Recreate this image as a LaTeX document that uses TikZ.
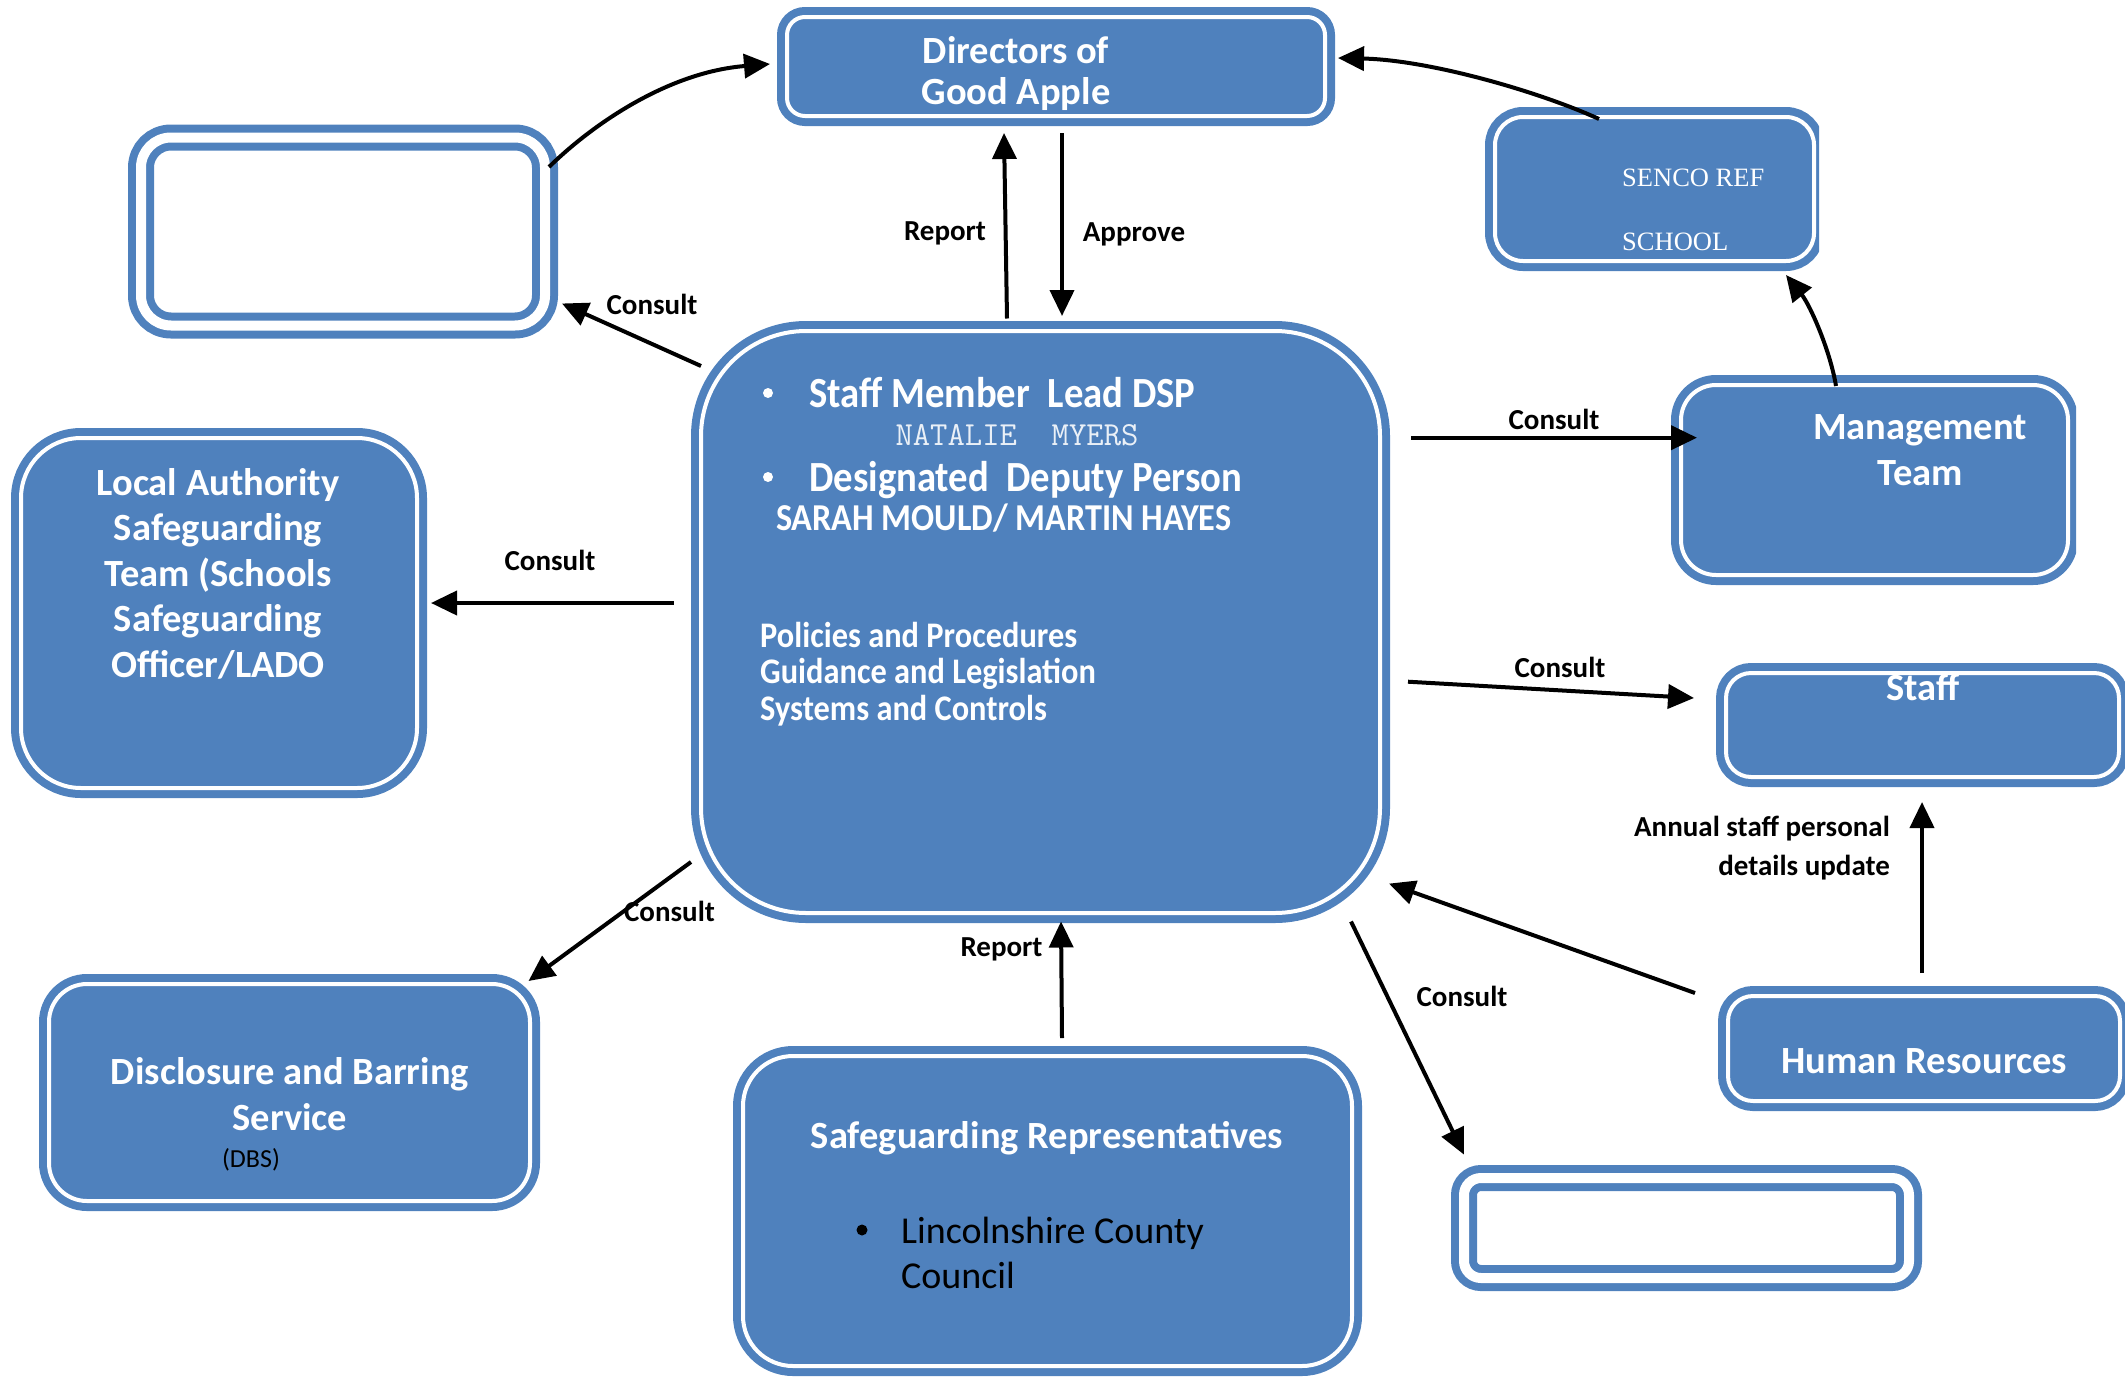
\documentclass[tikz,border=0pt]{standalone}
\usepackage{fontspec}
\setmainfont{Carlito}
\newfontfamily\condfont{Carlito}[FakeStretch=0.9]
\newfontfamily\serffont{Liberation Serif}
\usetikzlibrary{arrows.meta,calc}
\definecolor{ob}{HTML}{4F81BD}
\begin{document}
\begin{tikzpicture}[x=1pt,y=-1pt,
  bluebox/.style={rectangle, rounded corners=#1, fill=ob, draw=white, line width=4pt,
    preaction={draw=ob, line width=20pt}, inner sep=0pt, outer sep=0pt},
  bluebox/.default=20pt,
  emptybox/.style={rectangle, rounded corners=#1, draw=ob, line width=8pt, double=white,
    double distance=10pt, inner sep=0pt, outer sep=0pt},
  emptybox/.default=30pt,
  wtxt/.style={text=white, font=\bfseries\fontsize{38.5}{45.5}\selectfont, align=center,
    inner sep=0pt, anchor=base},
  ctxt/.style={text=white, inner sep=0pt, anchor=base west},
  lbl/.style={font=\bfseries\fontsize{29}{39}\selectfont, inner sep=0pt},
  conn/.style={line width=4pt, -{Triangle[length=26pt,width=24pt]}},
  dot/.style={circle, fill=#1, inner sep=0pt, minimum size=10pt},
]
\useasboundingbox (0,0) rectangle (2125,1376);

% boxes
\node[bluebox=18pt, minimum width=538pt, minimum height=99pt] (dir) at (1056,66.5) {};
\node[emptybox=30pt, minimum width=404pt, minimum height=188pt] (tl) at (343,231.5) {};
\begin{scope}
  \clip (0,0) rectangle (1819,1376);
  \node[bluebox=28pt, minimum width=319pt, minimum height=144pt] (senco) at (1654.5,189) {};
\end{scope}
\node[bluebox=105pt, minimum width=679pt, minimum height=582pt] (dsp) at (1040.5,622) {};
\begin{scope}
  \clip (0,0) rectangle (2076,1376);
  \node[bluebox=35pt, minimum width=387pt, minimum height=190pt] (mgmt) at (1874.5,480) {};
\end{scope}
\node[bluebox=60pt, minimum width=396pt, minimum height=350pt] (la) at (219,613) {};
\node[bluebox=25pt, minimum width=393pt, minimum height=104pt] (staff) at (1922.5,725) {};
\node[bluebox=25pt, minimum width=392pt, minimum height=105pt] (hr) at (1924,1048.5) {};
\node[bluebox=38pt, minimum width=481pt, minimum height=217pt] (dbs) at (289.5,1092.5) {};
\node[bluebox=50pt, minimum width=609pt, minimum height=310pt] (sg) at (1047.5,1211) {};
\node[emptybox=17pt, minimum width=445pt, minimum height=100pt] (br) at (1686.5,1228) {};

% box texts (multi-line nodes: base = last line's baseline)
\node[wtxt, font=\bfseries\fontsize{38.5}{41}\selectfont] (tdir) at (1016,104) {Directors of\\Good Apple};
\node[text=white, font=\serffont\fontsize{26.5}{64}\selectfont, align=left, anchor=base west,
  inner sep=0pt] (tsenco) at (1622,250) {SENCO REF\\SCHOOL};
\node[wtxt] (tmgmt) at (1920,485) {Management\\Team};
\node[wtxt] (tla) at (218,677) {Local Authority\\Safeguarding\\Team (Schools\\Safeguarding\\Officer/LADO};
\node[wtxt] (tstaff) at (1923,700) {Staff};
\node[wtxt] (thr) at (1924,1073) {Human Resources};
\node[wtxt] (tdbs) at (290,1130) {Disclosure and Barring\\Service};
\node[font=\fontsize{26}{30}\selectfont, inner sep=0pt, anchor=base] (tdbs2) at (251,1167) {(DBS)};
\node[wtxt] (tsg) at (1047,1148) {Safeguarding Representatives};
\node[dot=black, minimum size=11pt] (bsg) at (862,1230) {};
\node[font=\fontsize{38}{45}\selectfont, align=left, anchor=base west, inner sep=0pt] (tlcc)
  at (901,1288) {Lincolnshire County\\Council};

% central texts
\node[dot=white] (b1) at (768,393) {};
\node[ctxt, font=\condfont\bfseries\fontsize{43}{50}\selectfont] (t1) at (809,407) {Staff Member\ \ Lead DSP};
\node[text=white!88!ob, font=\ttfamily\fontsize{33.7}{40}\selectfont, anchor=base, inner sep=0pt]
  (t2) at (1017,445) {NATALIE\ \ MYERS};
\node[dot=white] (b2) at (768,477) {};
\node[ctxt, font=\condfont\bfseries\fontsize{43}{50}\selectfont] (t3) at (809,491) {Designated\ \ Deputy Person};
\node[ctxt, font=\condfont\bfseries\fontsize{38}{45}\selectfont] (t4) at (776,530) {SARAH MOULD/ MARTIN HAYES};
\node[ctxt, font=\condfont\bfseries\fontsize{36}{36.5}\selectfont, align=left] (t5) at (760,720)
  {Policies and Procedures\\Guidance and Legislation\\Systems and Controls};

% connectors
\draw[conn] ($(dsp.north)+(-33.5,-12.5)$) -- ($(dir.south)+(-52,17)$);
\draw[conn] ($(dir.south)+(6,17)$) -- ($(dsp.north)+(21.5,-15)$);
\draw[conn] ($(dsp.north west)+(0,35)$) -- ($(tl.east)+(17,72)$);
\draw[conn] ($(dsp.west)+(-27.5,-19)$) -- ($(la.east)+(14,-10)$);
\draw[conn] ($(dsp.east)+(31,-184.3)$) -- ($(mgmt.west)+(16,-42.3)$);
\draw[conn] ($(dsp.east)+(28,59.7)$) -- ($(staff.west)+(-32,-27)$);
\draw[conn] ($(hr.west)+(-33,-55.5)$) -- ($(dsp.south east)+(9,-29.4)$);
\draw[conn] ($(hr.north)+(-2,-23)$) -- ($(staff.south)+(-0.5,25)$);
\draw[conn] ($(dsp.south)+(310.5,8.5)$) -- ($(br.north west)+(0,-23.4)$);
\draw[conn] ($(sg.north)+(14.5,-18)$) -- ($(dsp.south)+(20.5,8.5)$);
\draw[conn] ($(dsp.south west)+(-10,-51)$) -- ($(dbs.north east)+(-1.5,-3)$);
\draw[conn] ($(tl.north east)+(4,29.5)$) .. controls (595,122) and (670,72) .. ($(dir.west)+(-17,-2.5)$);
\draw[conn] ($(senco.north)+(-55.5,2)$) .. controls (1540,92) and (1430,60) .. ($(dir.east)+(13,-8.5)$);
\draw[conn] ($(mgmt.north)+(-38.5,1)$) .. controls (1830,350) and (1810,305) .. ($(senco.south)+(131.5,14)$);

% labels
\node[lbl] (l1) at (652,304) {Consult};
\node[lbl] (l2) at (945,233) {Report};
\node[lbl] (l3) at (1134,234.5) {Approve};
\node[lbl] (l4) at (550,560) {Consult};
\node[lbl] (l5) at (1554,419) {Consult};
\node[lbl] (l6) at (1560,667) {Consult};
\node[lbl, align=right, anchor=base east] (l7) at (1890,875) {Annual staff personal\\details update};
\node[lbl] (l8) at (669.5,911) {Consult};
\node[lbl] (l9) at (1001.5,949) {Report};
\node[lbl] (l10) at (1462,996) {Consult};
\end{tikzpicture}
\end{document}
